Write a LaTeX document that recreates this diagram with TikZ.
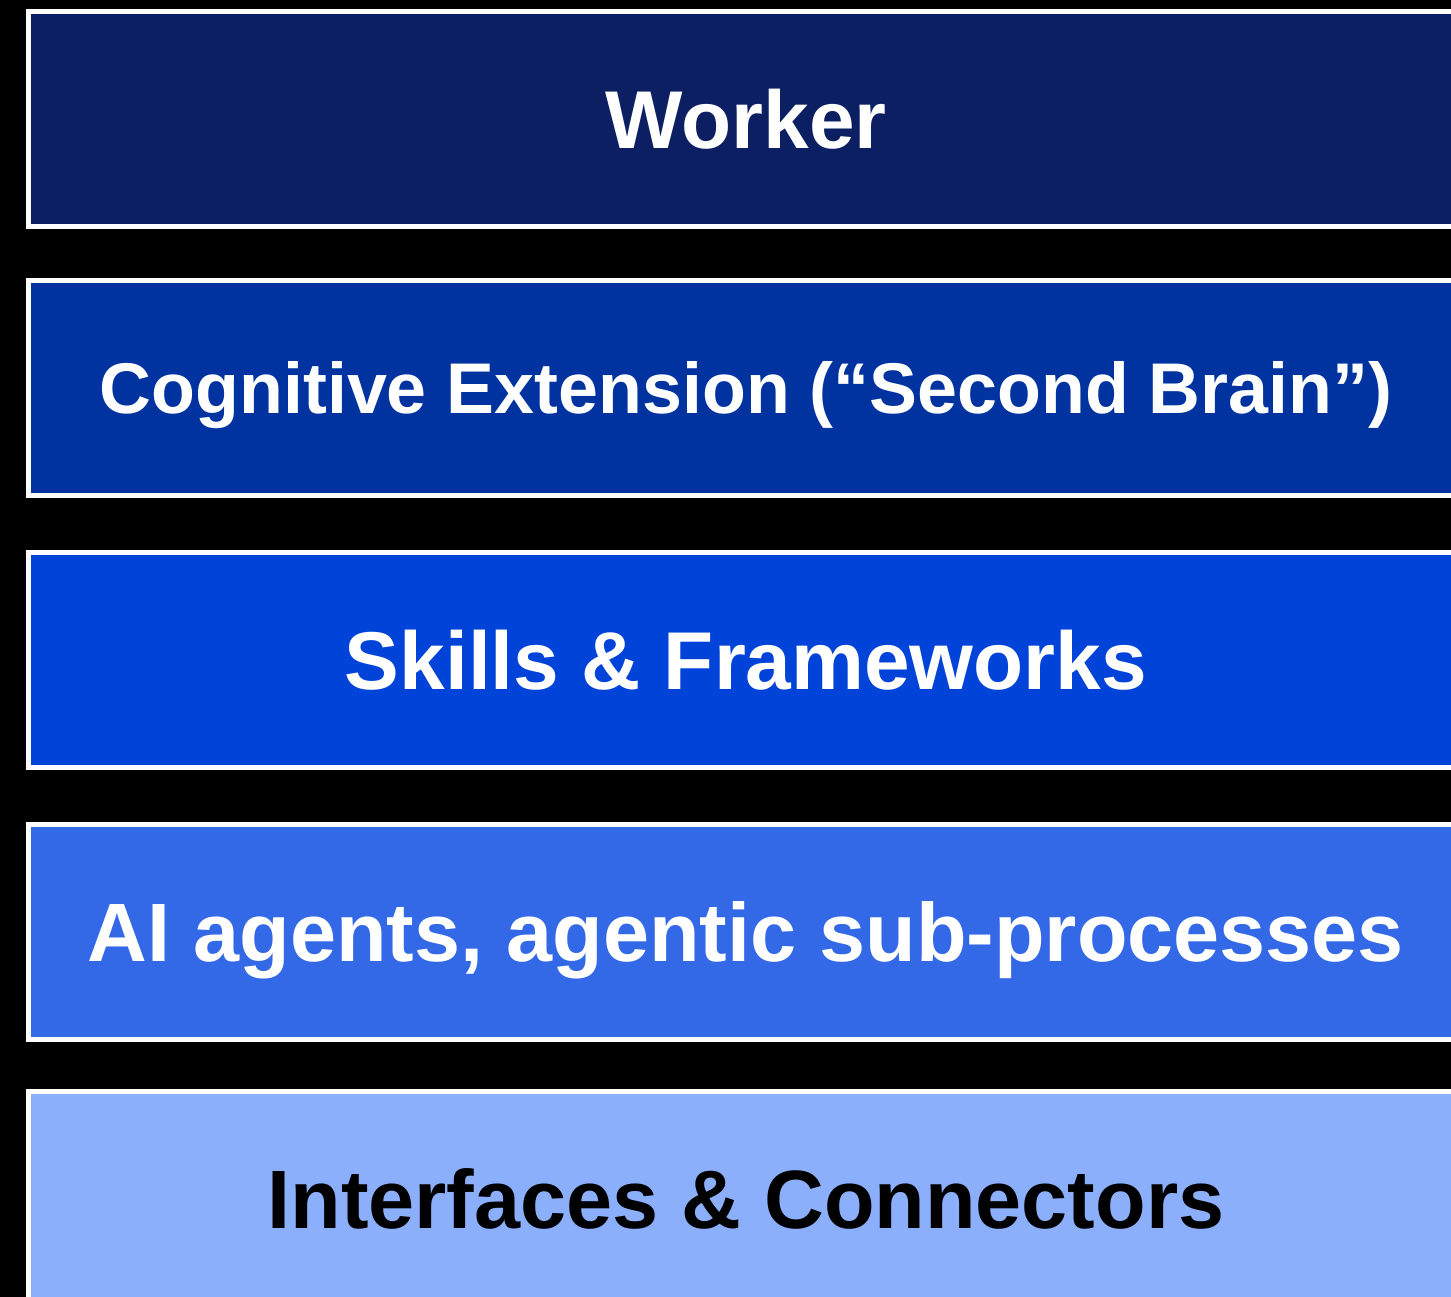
\documentclass[tikz,border=0pt]{standalone}
\usepackage{fontspec}
\setmainfont{Liberation Sans}
\definecolor{cWorker}{HTML}{0C1F63}
\definecolor{cCog}{HTML}{0033A0}
\definecolor{cSkill}{HTML}{0043D9}
\definecolor{cAgent}{HTML}{3369E6}
\definecolor{cIface}{HTML}{8CAFFC}
\begin{document}
\begin{tikzpicture}[x=1pt,y=-1pt,
  layer/.style={draw=white, line width=5pt, rectangle, minimum width=1435pt,
    minimum height=215pt, inner sep=0pt, text=white,
    font=\bfseries\fontsize{82}{90}\selectfont, text height=58.7pt, text depth=0pt},
  smallfont/.style={font=\bfseries\fontsize{71.8}{80}\selectfont, text height=51.4pt},
  bigfont/.style={font=\bfseries\fontsize{82.8}{90}\selectfont, text height=59.3pt}]
\fill[black] (0,0) rectangle (1451,1297);
\useasboundingbox (0,0) rectangle (1451,1297);
\node[layer, fill=cWorker] (worker) at (746,119) {Worker};
\node[layer, smallfont, fill=cCog] (cog) at (746,388) {Cognitive Extension (“Second Brain”)};
\node[layer, fill=cSkill] (skills) at (746,660) {Skills \& Frameworks};
\node[layer, bigfont, fill=cAgent] (agents) at (746,932) {AI agents, agentic sub-processes};
\node[layer, bigfont, fill=cIface, text=black] (iface) at (746,1199) {Interfaces \& Connectors};
\end{tikzpicture}
\end{document}
